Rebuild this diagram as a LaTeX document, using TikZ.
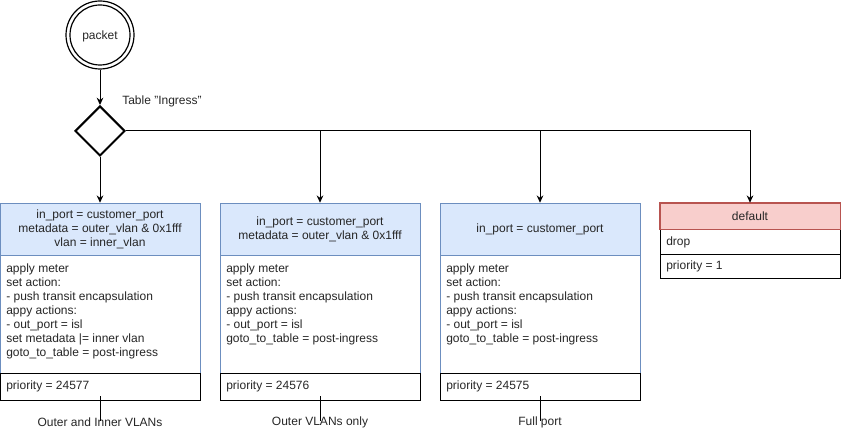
\documentclass[tikz,border=0pt]{standalone}
\usepackage{fontspec}
\setmainfont{Liberation Sans}
\usetikzlibrary{shapes.geometric,arrows.meta}
\definecolor{hdrfill}{HTML}{DAE8FC}
\definecolor{hdrline}{HTML}{6C8EBF}
\definecolor{redfill}{HTML}{F8CECC}
\definecolor{redline}{HTML}{B85450}
\tikzset{
  every node/.style={font=\fontsize{9pt}{10.5pt}\selectfont, text=black!85},
  hdr/.style={draw=hdrline, fill=hdrfill, minimum width=150pt, minimum height=39pt, inner sep=0pt, align=center},
  body/.style={draw=hdrline, fill=white, minimum width=150pt, minimum height=88.5pt, inner sep=0pt},
  prio/.style={draw=black, minimum width=150pt, minimum height=20.25pt, inner sep=0pt},
  txt/.style={anchor=north west, align=left, inner sep=0pt},
  ptxt/.style={anchor=west, inner sep=0pt},
  lbl/.style={inner sep=0pt},
  arr/.style={draw=black, line width=0.75pt, -{Stealth[length=5.5pt,width=5pt]}},
  tick/.style={draw=black, line width=0.6pt},
}
\begin{document}
\begin{tikzpicture}[x=0.75pt,y=-0.75pt]
\useasboundingbox (0,0) rectangle (841,434);
% start
\node[circle, draw, line width=0.9pt, minimum size=51pt, inner sep=0pt] (pk) at (100,35) {};
\node[circle, draw, line width=0.9pt, minimum size=45pt, inner sep=0pt] (pki) at (100,35) {};
\node[lbl] (pkt) at (100,36) {packet};
% decision
\node[diamond, draw, line width=1.5pt, minimum width=37.5pt, minimum height=37.5pt, inner sep=0pt, aspect=1] (d) at (100,131) {};
\node[lbl, anchor=west] (tl) at (122,101) {Table "Ingress"};

% box 1
\node[hdr] (h1) at (100,229) {in\_port = customer\_port\\metadata = outer\_vlan \& 0x1fff\\vlan = inner\_vlan};
\node[body] (b1) at (100,314) {};
\node[txt] (bt1) at (6,263.5) {apply meter\\set action:\\- push transit encapsulation\\appy actions:\\- out\_port = isl\\set metadata |= inner vlan\\goto\_to\_table = post-ingress};
\node[prio] (p1) at (100,386.5) {};
\node[ptxt] (pt1) at (6,386.5) {priority = 24577};

% box 2
\node[hdr] (h2) at (320,229) {in\_port = customer\_port\\metadata = outer\_vlan \& 0x1fff};
\node[body] (b2) at (320,314) {};
\node[txt] (bt2) at (226,263.5) {apply meter\\set action:\\- push transit encapsulation\\appy actions:\\- out\_port = isl\\goto\_to\_table = post-ingress};
\node[prio] (p2) at (320,386.5) {};
\node[ptxt] (pt2) at (226,386.5) {priority = 24576};

% box 3
\node[hdr] (h3) at (540,229) {in\_port = customer\_port};
\node[body] (b3) at (540,314) {};
\node[txt] (bt3) at (446,263.5) {apply meter\\set action:\\- push transit encapsulation\\appy actions:\\- out\_port = isl\\goto\_to\_table = post-ingress};
\node[prio] (p3) at (540,386.5) {};
\node[ptxt] (pt3) at (446,386.5) {priority = 24575};

% default
\node[draw=redline, fill=redfill, minimum width=135pt, minimum height=19.5pt, inner sep=0pt] (h4) at (750,216) {default};
\node[draw=black, minimum width=135pt, minimum height=18.75pt, inner sep=0pt] (b4) at (750,241.5) {};
\node[ptxt] (bt4) at (666,242.5) {drop};
\node[draw=black, minimum width=135pt, minimum height=18pt, inner sep=0pt] (p4) at (750,266) {};
\node[ptxt] (pt4) at (666,266.5) {priority = 1};
\draw[redline] (h4.north west) rectangle (h4.south east);

% connectors
\draw[arr] (pk.south) -- (d.north);
\draw[arr] (d.south) -- (h1.north);
\draw[arr] (d.east) -| (h4.north);
\draw[arr] (d.east -| h2.north) -- (h2.north);
\draw[arr] (d.east -| h3.north) -- (h3.north);

% bottom labels
\coordinate (c1) at (100,396);
\coordinate (c2) at (320,396);
\coordinate (c3) at (540,396);
\node[lbl] (l1) at (100,422) {Outer and Inner VLANs};
\node[lbl] (l2) at (320,422) {Outer VLANs only};
\node[lbl] (l3) at (540,422) {Full port};
\draw[tick] (c1) -- ([yshift=1pt]l1.center);
\draw[tick] (c2) -- ([yshift=1pt]l2.center);
\draw[tick] (c3) -- ([yshift=1pt]l3.center);
\end{tikzpicture}
\end{document}
